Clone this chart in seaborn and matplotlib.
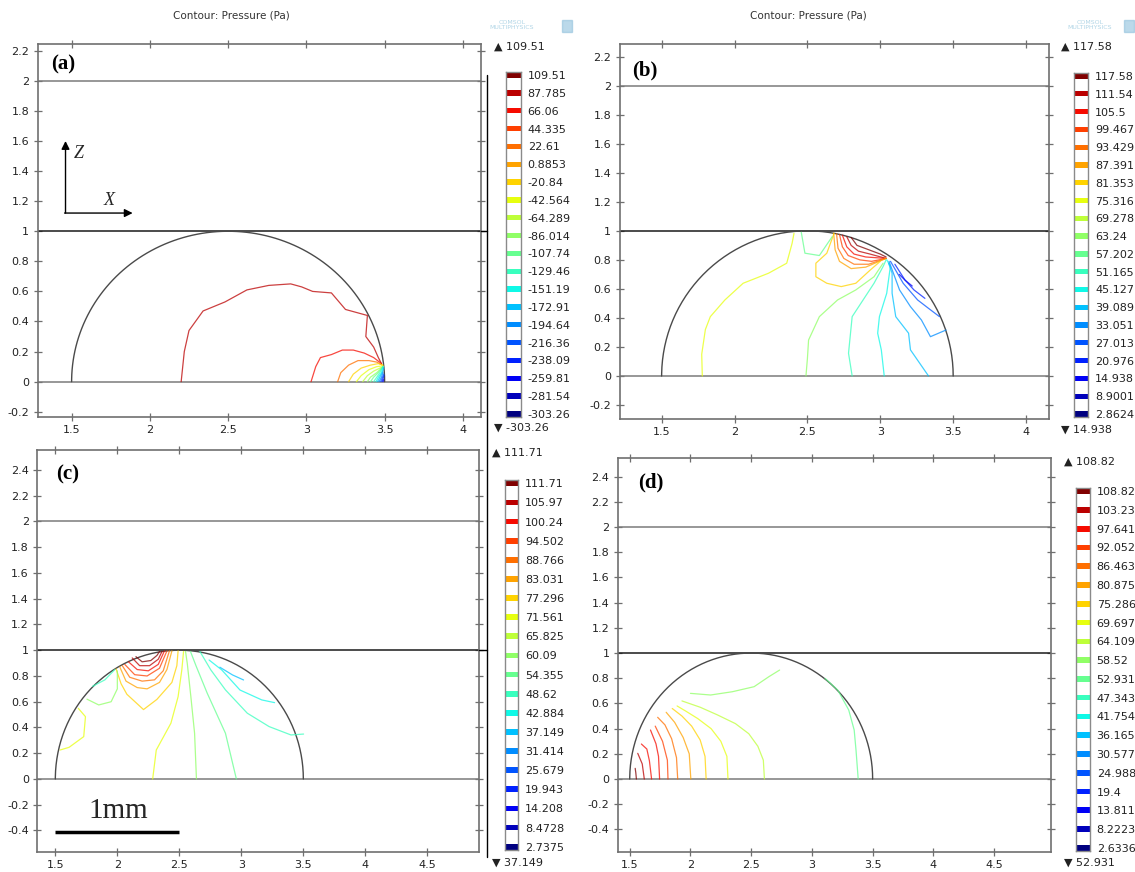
import matplotlib
matplotlib.use("Agg")
import matplotlib.pyplot as plt
from matplotlib.lines import Line2D
import numpy as np
import seaborn as sns

W, H = 1135, 872

# geometry of the model (mm)
DROP_CENTER_X = 2.5
DROP_RADIUS = 1.0
DOMAIN_LINES = [0.0, 1.0, 2.0]

# legend levels, top to bottom
LEVELS_A = ["109.51", "87.785", "66.06", "44.335", "22.61", "0.8853", "-20.84", "-42.564",
            "-64.289", "-86.014", "-107.74", "-129.46", "-151.19", "-172.91", "-194.64",
            "-216.36", "-238.09", "-259.81", "-281.54", "-303.26"]
LEVELS_B = ["117.58", "111.54", "105.5", "99.467", "93.429", "87.391", "81.353", "75.316",
            "69.278", "63.24", "57.202", "51.165", "45.127", "39.089", "33.051", "27.013",
            "20.976", "14.938", "8.9001", "2.8624"]
LEVELS_C = ["111.71", "105.97", "100.24", "94.502", "88.766", "83.031", "77.296", "71.561",
            "65.825", "60.09", "54.355", "48.62", "42.884", "37.149", "31.414", "25.679",
            "19.943", "14.208", "8.4728", "2.7375"]
LEVELS_D = ["108.82", "103.23", "97.641", "92.052", "86.463", "80.875", "75.286", "69.697",
            "64.109", "58.52", "52.931", "47.343", "41.754", "36.165", "30.577", "24.988",
            "19.4", "13.811", "8.2223", "2.6336"]
RANGE_A = ("109.51", "-303.26")
RANGE_B = ("117.58", "14.938")
RANGE_C = ("111.71", "37.149")
RANGE_D = ("108.82", "52.931")

# contour lines: level index (0 = lowest legend entry) and (x, z) points
A_IDX = [18, 17, 15, 13, 12, 11, 10, 9, 8, 7, 6, 5, 4, 3, 2]
A_LINES = [
    [(2.20, 0.0), (2.22, 0.2), (2.25, 0.34), (2.34, 0.47), (2.48, 0.53), (2.62, 0.61), (2.76, 0.64),
     (2.90, 0.65), (2.97, 0.63), (3.04, 0.60), (3.16, 0.59), (3.25, 0.48), (3.39, 0.44), (3.38, 0.30),
     (3.43, 0.23), (3.46, 0.16), (3.48, 0.12)],
    [(3.03, 0.0), (3.06, 0.10), (3.09, 0.16), (3.16, 0.18), (3.23, 0.21), (3.30, 0.21), (3.37, 0.19),
     (3.43, 0.16), (3.48, 0.12)],
    [(3.20, 0.0), (3.22, 0.06), (3.27, 0.11), (3.33, 0.14), (3.40, 0.14), (3.45, 0.13), (3.485, 0.11)],
    [(3.27, 0.0), (3.30, 0.05), (3.35, 0.09), (3.41, 0.11), (3.46, 0.12), (3.49, 0.11)],
    [(3.32, 0.0), (3.35, 0.04), (3.40, 0.08), (3.45, 0.10), (3.49, 0.105)],
    [(3.36, 0.0), (3.39, 0.04), (3.43, 0.07), (3.49, 0.10)],
    [(3.39, 0.0), (3.41, 0.03), (3.45, 0.06), (3.49, 0.10)],
    [(3.41, 0.0), (3.43, 0.03), (3.46, 0.06), (3.49, 0.10)],
    [(3.43, 0.0), (3.45, 0.03), (3.47, 0.06), (3.49, 0.10)],
    [(3.445, 0.0), (3.46, 0.03), (3.48, 0.06), (3.49, 0.10)],
    [(3.455, 0.0), (3.47, 0.03), (3.485, 0.06), (3.495, 0.09)],
    [(3.465, 0.0), (3.48, 0.03), (3.49, 0.06)],
    [(3.475, 0.0), (3.485, 0.025), (3.495, 0.05)],
    [(3.483, 0.0), (3.49, 0.02), (3.497, 0.04)],
    [(3.49, 0.0), (3.495, 0.015)],
]

B_IDX = [19, 18, 17, 16, 15, 14, 13, 12, 10, 9, 8, 7, 6, 5, 4, 3, 2]
B_LINES = [
    [(2.80, 0.955), (2.84, 0.90), (2.92, 0.87), (3.00, 0.84), (3.04, 0.82)],
    [(2.77, 0.96), (2.80, 0.90), (2.85, 0.86), (2.93, 0.84), (3.04, 0.81)],
    [(2.74, 0.97), (2.77, 0.89), (2.82, 0.84), (2.90, 0.82), (3.04, 0.81)],
    [(2.72, 0.975), (2.74, 0.89), (2.78, 0.83), (2.86, 0.80), (2.94, 0.79), (3.04, 0.81)],
    [(2.70, 0.98), (2.71, 0.88), (2.75, 0.81), (2.82, 0.77), (2.92, 0.77), (3.04, 0.81)],
    [(2.68, 0.985), (2.69, 0.87), (2.72, 0.79), (2.80, 0.74), (2.90, 0.75), (3.04, 0.81)],
    [(2.683, 0.983), (2.633, 0.846), (2.558, 0.777), (2.558, 0.684), (2.633, 0.639), (2.732, 0.616),
     (2.832, 0.639), (2.932, 0.731), (3.00, 0.79)],
    [(1.779, 0.0), (1.775, 0.15), (1.80, 0.32), (1.834, 0.409), (1.934, 0.524), (2.059, 0.639),
     (2.233, 0.708), (2.358, 0.777), (2.395, 0.914), (2.408, 0.983)],
    [(2.49, 0.0), (2.50, 0.12), (2.508, 0.248), (2.582, 0.409), (2.707, 0.524), (2.832, 0.593),
     (2.957, 0.684), (3.019, 0.777)],
    [(2.458, 0.99), (2.483, 0.846), (2.582, 0.83), (2.670, 0.96)],
    [(2.807, 0.0), (2.782, 0.157), (2.807, 0.409), (2.882, 0.524), (2.957, 0.639), (3.019, 0.754),
     (3.04, 0.80)],
    [(3.027, 0.0), (3.007, 0.18), (2.982, 0.295), (2.994, 0.409), (3.044, 0.57), (3.069, 0.754),
     (3.045, 0.80)],
    [(3.331, 0.0), (3.207, 0.18), (3.194, 0.295), (3.106, 0.409), (3.081, 0.57), (3.081, 0.708),
     (3.057, 0.777)],
    [(3.06, 0.79), (3.132, 0.593), (3.207, 0.478), (3.282, 0.386), (3.344, 0.271), (3.451, 0.317)],
    [(3.07, 0.79), (3.157, 0.639), (3.256, 0.524), (3.331, 0.466), (3.406, 0.409)],
    [(3.10, 0.77), (3.169, 0.662), (3.231, 0.593), (3.306, 0.535)],
    [(3.13, 0.70), (3.17, 0.66), (3.219, 0.62)],
]

C_IDX = [19, 18, 17, 16, 15, 14, 13, 12, 10, 8, 12, 10, 9, 8, 7, 6]
C_LINES = [
    [(2.15, 0.95), (2.20, 0.91), (2.27, 0.92), (2.32, 0.96), (2.34, 0.99)],
    [(2.12, 0.94), (2.18, 0.88), (2.26, 0.88), (2.33, 0.93), (2.36, 0.99)],
    [(2.09, 0.91), (2.16, 0.85), (2.25, 0.84), (2.33, 0.89), (2.38, 0.995)],
    [(2.06, 0.89), (2.14, 0.81), (2.24, 0.80), (2.34, 0.86), (2.40, 0.995)],
    [(2.04, 0.88), (2.10, 0.79), (2.20, 0.76), (2.30, 0.77), (2.37, 0.84), (2.42, 0.995)],
    [(2.02, 0.87), (2.07, 0.76), (2.16, 0.71), (2.24, 0.70), (2.34, 0.75), (2.40, 0.85), (2.44, 0.995)],
    [(1.99, 0.855), (2.03, 0.74), (2.077, 0.658), (2.211, 0.539), (2.319, 0.618), (2.44, 0.75),
     (2.48, 0.88), (2.49, 0.995)],
    [(1.685, 0.549), (1.743, 0.484), (1.729, 0.329), (1.611, 0.246), (1.538, 0.225)],
    [(1.755, 0.62), (1.85, 0.575), (1.95, 0.60), (2.00, 0.70), (2.00, 0.84)],
    [(1.80, 0.72), (1.90, 0.77), (1.98, 0.85)],
    [(2.285, 0.0), (2.314, 0.225), (2.432, 0.433), (2.49, 0.639), (2.52, 0.847), (2.534, 0.99)],
    [(2.638, 0.0), (2.623, 0.355), (2.593, 0.639), (2.564, 0.898), (2.55, 0.99)],
    [(2.96, 0.0), (2.872, 0.355), (2.725, 0.666), (2.637, 0.873), (2.59, 0.99)],
    [(3.502, 0.349), (3.40, 0.342), (3.224, 0.407), (3.048, 0.511), (2.872, 0.692), (2.754, 0.847),
     (2.666, 0.99)],
    [(3.268, 0.593), (3.165, 0.614), (2.989, 0.691), (2.842, 0.847), (2.74, 0.924)],
    [(2.827, 0.868), (2.929, 0.808), (3.018, 0.769)],
]

D_IDX = [19, 18, 17, 17, 16, 15, 14, 13, 12, 11, 10, 9]
D_LINES = [
    [(1.555, 0.0), (1.55, 0.05), (1.545, 0.085)],
    [(1.62, 0.0), (1.603, 0.12), (1.566, 0.204)],
    [(1.68, 0.0), (1.662, 0.145), (1.641, 0.238), (1.596, 0.278)],
    [(1.746, 0.0), (1.737, 0.18), (1.716, 0.28), (1.671, 0.389)],
    [(1.815, 0.0), (1.81, 0.15), (1.77, 0.30), (1.71, 0.42)],
    [(1.895, 0.0), (1.885, 0.17), (1.845, 0.32), (1.79, 0.43), (1.73, 0.49)],
    [(2.003, 0.0), (1.99, 0.20), (1.94, 0.33), (1.87, 0.45), (1.80, 0.53)],
    [(2.129, 0.0), (2.12, 0.18), (2.08, 0.31), (2.01, 0.42), (1.93, 0.50), (1.85, 0.56)],
    [(2.309, 0.0), (2.30, 0.18), (2.25, 0.30), (2.17, 0.40), (2.06, 0.48), (1.96, 0.54), (1.89, 0.58)],
    [(2.609, 0.0), (2.60, 0.15), (2.555, 0.26), (2.48, 0.36), (2.37, 0.44), (2.22, 0.51), (2.08, 0.57),
     (1.93, 0.62)],
    [(2.0, 0.68), (2.166, 0.667), (2.345, 0.693), (2.524, 0.733), (2.645, 0.812), (2.734, 0.865)],
    [(3.381, 0.0), (3.363, 0.23), (3.348, 0.389), (3.303, 0.548), (3.213, 0.706), (3.108, 0.799)],
]

# panel frames in figure pixels (left, top, right, bottom) and data limits
PANELS = [
    dict(tag="(a)", box=(37.5, 44, 480.7, 417), xlim=(1.282, 4.114), ylim=(-0.235, 2.245),
         xticks=[1.5, 2, 2.5, 3, 3.5, 4], yticks=[-0.2, 0, 0.2, 0.4, 0.6, 0.8, 1, 1.2, 1.4, 1.6, 1.8, 2, 2.2],
         cbar=(506.2, 72, 520.7, 417), rng=RANGE_A, rng_xy=(494, 47, 428), levels=LEVELS_A,
         idx=A_IDX, lines=A_LINES, tag_pos=(0.03, 0.944)),
    dict(tag="(b)", box=(619.5, 44, 1049.4, 419), xlim=(1.211, 4.16), ylim=(-0.296, 2.287),
         xticks=[1.5, 2, 2.5, 3, 3.5, 4], yticks=[-0.2, 0, 0.2, 0.4, 0.6, 0.8, 1, 1.2, 1.4, 1.6, 1.8, 2, 2.2],
         cbar=(1074, 73, 1088, 417), rng=RANGE_B, rng_xy=(1061, 47, 430), levels=LEVELS_B,
         idx=B_IDX, lines=B_LINES, tag_pos=(0.03, 0.93)),
    dict(tag="(c)", box=(37.1, 450, 479.3, 852), xlim=(1.353, 4.919), ylim=(-0.567, 2.555),
         xticks=[1.5, 2, 2.5, 3, 3.5, 4, 4.5],
         yticks=[-0.4, -0.2, 0, 0.2, 0.4, 0.6, 0.8, 1, 1.2, 1.4, 1.6, 1.8, 2, 2.2, 2.4],
         cbar=(504.7, 480, 518.2, 850), rng=RANGE_C, rng_xy=(492, 453, 863), levels=LEVELS_C,
         idx=C_IDX, lines=C_LINES, tag_pos=(0.043, 0.938)),
    dict(tag="(d)", box=(617.7, 458, 1051.2, 852), xlim=(1.401, 4.97), ylim=(-0.579, 2.548),
         xticks=[1.5, 2, 2.5, 3, 3.5, 4, 4.5],
         yticks=[-0.4, -0.2, 0, 0.2, 0.4, 0.6, 0.8, 1, 1.2, 1.4, 1.6, 1.8, 2, 2.2, 2.4],
         cbar=(1075.9, 488, 1089.7, 851), rng=RANGE_D, rng_xy=(1064, 462, 863), levels=LEVELS_D,
         idx=D_IDX, lines=D_LINES, tag_pos=(0.047, 0.939)),
]

sns.set_theme(style="white")
plt.rcParams["font.family"] = ["DejaVu Sans"]
plt.rcParams["axes.unicode_minus"] = False

FRAME = "#6f6f6f"
TXT = "#222222"
cmap = plt.get_cmap("jet")


def add_px_axes(fig, box):
    left, top, right, bottom = box
    return fig.add_axes([left / W, 1 - bottom / H, (right - left) / W, (bottom - top) / H])


def fmt(v):
    return f"{v:g}"


fig = plt.figure(figsize=(W / 100, H / 100), dpi=100)

for p in PANELS:
    ax = add_px_axes(fig, p["box"])
    ax.set_facecolor("white")

    # domain boundaries
    for yl in DOMAIN_LINES:
        ax.axhline(yl, color="#1a1a1a" if yl == 1.0 else "#7a7a7a", lw=1.1, zorder=2)
    theta = np.linspace(0, np.pi, 200)
    ax.plot(DROP_CENTER_X + DROP_RADIUS * np.cos(theta), DROP_RADIUS * np.sin(theta),
            color="#4a4a4a", lw=1.0, zorder=2)

    # contour lines
    for level, pts in zip(p["idx"], p["lines"]):
        xs = [q[0] for q in pts]
        ys = [q[1] for q in pts]
        sns.lineplot(x=xs, y=ys, sort=False, estimator=None, color=cmap(level / 19),
                     linewidth=0.9, alpha=0.75, ax=ax, zorder=3)

    ax.set_xlim(*p["xlim"])
    ax.set_ylim(*p["ylim"])
    ax.set_xticks(p["xticks"])
    ax.set_xticklabels([fmt(v) for v in p["xticks"]])
    ax.set_yticks(p["yticks"])
    ax.set_yticklabels([fmt(v) for v in p["yticks"]])
    ax.set_xlabel("")
    ax.set_ylabel("")
    ax.tick_params(direction="inout", length=6, width=0.9, color=FRAME, labelsize=8,
                   labelcolor=TXT, top=True, right=True, bottom=True, left=True, pad=3)
    for s in ax.spines.values():
        s.set_color(FRAME)
        s.set_linewidth(1.2)
        s.set_visible(True)

    ax.text(p["tag_pos"][0], p["tag_pos"][1], p["tag"], transform=ax.transAxes,
            family="Liberation Serif", fontweight="bold", fontsize=15, ha="left", va="center",
            color="black")

    # legend strip
    cax = add_px_axes(fig, p["cbar"])
    n = len(p["levels"])
    for i, lab in enumerate(p["levels"]):
        lev = n - 1 - i
        cax.barh(lev, 1, height=0.3, color=cmap(lev / (n - 1)), edgecolor="none")
    cax.set_xlim(0, 1)
    cax.set_ylim(-0.17, n - 1 + 0.17)
    cax.set_xticks([])
    cax.set_yticks(range(n))
    cax.set_yticklabels(p["levels"][::-1])
    cax.yaxis.tick_right()
    cax.tick_params(axis="y", length=0, pad=5, labelsize=8, labelcolor=TXT)
    for s in cax.spines.values():
        s.set_color("#8a8a8a")
        s.set_linewidth(1.0)
        s.set_visible(True)

    rx, ry_top, ry_bot = p["rng_xy"]
    fig.text(rx / W, 1 - ry_top / H, "\u25b2 " + p["rng"][0], fontsize=8, color=TXT,
             ha="left", va="center")
    fig.text(rx / W, 1 - ry_bot / H, "\u25bc " + p["rng"][1], fontsize=8, color=TXT,
             ha="left", va="center")

# titles and faint logos
for cx in (231.6, 808):
    fig.text(cx / W, 1 - 15 / H, "Contour: Pressure (Pa)", fontsize=7.5, color="#333333",
             ha="center", va="center")
for lx, cube_x in ((512, 562), (1090, 1124)):
    fig.text(lx / W, 1 - 25 / H, "COMSOL\nMULTIPHYSICS", fontsize=4.5, color="#9ecbe0",
             ha="center", va="center", linespacing=1.0, alpha=0.8)
    fig.patches.append(plt.Rectangle((cube_x / W, 1 - 32 / H), 10 / W, 12 / H,
                                     transform=fig.transFigure, color="#8fc0dc", alpha=0.6))

# separator and extended z = 1 lines
fig.add_artist(Line2D([486.5 / W, 486.5 / W], [1 - 75 / H, 1 - 857 / H], color="black", lw=1.0))
fig.add_artist(Line2D([480.7 / W, 486.5 / W], [1 - 231.2 / H, 1 - 231.2 / H], color="black", lw=1.0))
fig.add_artist(Line2D([479.3 / W, 486.5 / W], [1 - 650.3 / H, 1 - 650.3 / H], color="black", lw=1.0))

# axis arrows in (a)
ax_a = fig.axes[0]
ax_a.annotate("", xy=(1.461, 1.60), xytext=(1.461, 1.121),
              arrowprops=dict(arrowstyle="-|>", color="black", lw=1.0, mutation_scale=12,
                              shrinkA=0, shrinkB=0))
ax_a.annotate("", xy=(1.89, 1.121), xytext=(1.455, 1.121),
              arrowprops=dict(arrowstyle="-|>", color="black", lw=1.0, mutation_scale=12,
                              shrinkA=0, shrinkB=0))
ax_a.text(1.547, 1.52, "Z", family="Liberation Serif", style="italic", fontsize=13, ha="center",
          va="center")
ax_a.text(1.739, 1.207, "X", family="Liberation Serif", style="italic", fontsize=13, ha="center",
          va="center")

# scale bar in (c)
SCALE_BAR_X = [1.5, 2.5]
SCALE_BAR_Y = -0.41
ax_c = fig.axes[4]
ax_c.plot(SCALE_BAR_X, [SCALE_BAR_Y, SCALE_BAR_Y], color="black", lw=2.5, solid_capstyle="butt")
ax_c.text(2.01, -0.25, "1mm", family="Liberation Serif", fontsize=21, ha="center", va="center")

fig.savefig("out.png", dpi=100)
